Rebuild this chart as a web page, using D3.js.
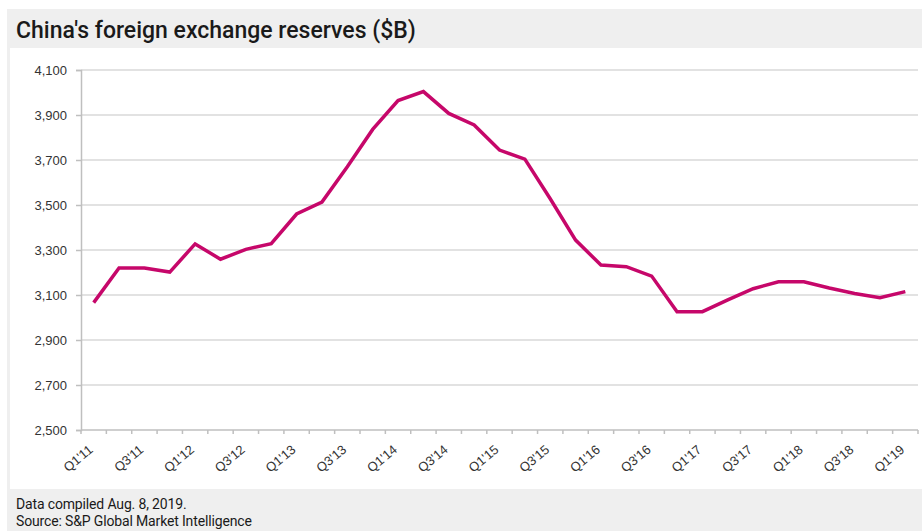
<!DOCTYPE html>
<html><head><meta charset="utf-8">
<script src="https://cdn.jsdelivr.net/npm/d3@7/dist/d3.min.js"></script>
<style>
body{margin:0;background:#fff;}
svg{display:block;font-family:"Roboto","Liberation Sans",sans-serif;}
</style></head>
<body><svg id="c" width="922" height="531"></svg>
<script>
const quarters = ["Q1'11","Q2'11","Q3'11","Q4'11","Q1'12","Q2'12","Q3'12","Q4'12","Q1'13","Q2'13","Q3'13","Q4'13","Q1'14","Q2'14","Q3'14","Q4'14","Q1'15","Q2'15","Q3'15","Q4'15","Q1'16","Q2'16","Q3'16","Q4'16","Q1'17","Q2'17","Q3'17","Q4'17","Q1'18","Q2'18","Q3'18","Q4'18","Q1'19"];
const reserves = [3066,3220,3220,3202,3327,3259,3303,3328,3460,3513,3670,3836,3964,4004,3907,3856,3744,3704,3528,3344,3233,3226,3184,3026,3026,3078,3128,3159,3159,3131,3107,3088,3115];
const yTicks = [2500,2700,2900,3100,3300,3500,3700,3900,4100];
const xLabels = quarters.filter((q,i)=>i%2===0);
const title = "China's foreign exchange reserves ($B)";
const notes = ["Data compiled Aug. 8, 2019.","Source: S&P Global Market Intelligence"];

(function(){
const svg = d3.select("#c");
const axisFont = "'Liberation Sans', Arial, sans-serif";
svg.append("rect").attr("x",7).attr("y",9).attr("width",915).attr("height",522).attr("fill","#efefef");
svg.append("rect").attr("x",10).attr("y",48).attr("width",912).attr("height",441).attr("fill","#ffffff");
svg.append("text").attr("x",16).attr("y",38).attr("font-size",23).attr("font-weight",500)
  .attr("fill","#1a1a1a").text(title);
notes.forEach((t,i)=>svg.append("text").attr("x",16).attr("y",509+i*17).attr("font-size",14)
  .attr("fill","#1a1a1a").attr("letter-spacing",-0.15).text(t));

const pL=81, pR=918, pT=70, pB=430;
const x = d3.scaleBand().domain(quarters).range([pL,pR]);
const y = d3.scaleLinear().domain([2500,4100]).range([pB,pT]);

svg.append("g").selectAll("line").data(yTicks.slice(1)).join("line")
  .attr("x1",pL).attr("x2",pR).attr("y1",d=>y(d)).attr("y2",d=>y(d))
  .attr("stroke","#d9d9d9").attr("stroke-width",1.5);

const ya = svg.append("g").attr("transform",`translate(${pL},0)`)
  .call(d3.axisLeft(y).tickValues(yTicks).tickFormat(d3.format(",")).tickSize(5).tickPadding(9));
ya.select(".domain").attr("stroke","#bfbfbf").attr("stroke-width",1.5);
ya.selectAll(".tick line").attr("stroke","#bfbfbf").attr("stroke-width",1.5);
ya.selectAll("text").attr("font-size",13).attr("fill","#333").attr("font-family",axisFont);

const xa = svg.append("g").attr("transform",`translate(0,${pB})`);
xa.append("line").attr("x1",pL).attr("x2",pR).attr("stroke","#bfbfbf").attr("stroke-width",1.5);
const bounds = quarters.map(q=>x(q)).concat([x(quarters[quarters.length-1])+x.bandwidth()]);
xa.selectAll("line.tk").data(bounds).join("line").attr("class","tk")
  .attr("x1",d=>d).attr("x2",d=>d).attr("y1",0).attr("y2",4)
  .attr("stroke","#bfbfbf").attr("stroke-width",1.5);
xa.selectAll("text").data(xLabels).join("text")
  .attr("transform",d=>`translate(${x(d)+x.bandwidth()/2},${21}) rotate(-40)`)
  .attr("text-anchor","end").attr("font-size",13).attr("font-family",axisFont)
  .attr("fill","#333").text(d=>d);

const line = d3.line().x((d,i)=>x(quarters[i])+x.bandwidth()/2).y(d=>y(d));
svg.append("path").datum(reserves).attr("d",line).attr("fill","none")
  .attr("stroke","#c6076a").attr("stroke-width",3.5).attr("stroke-linejoin","miter");
})();
</script></body></html>
